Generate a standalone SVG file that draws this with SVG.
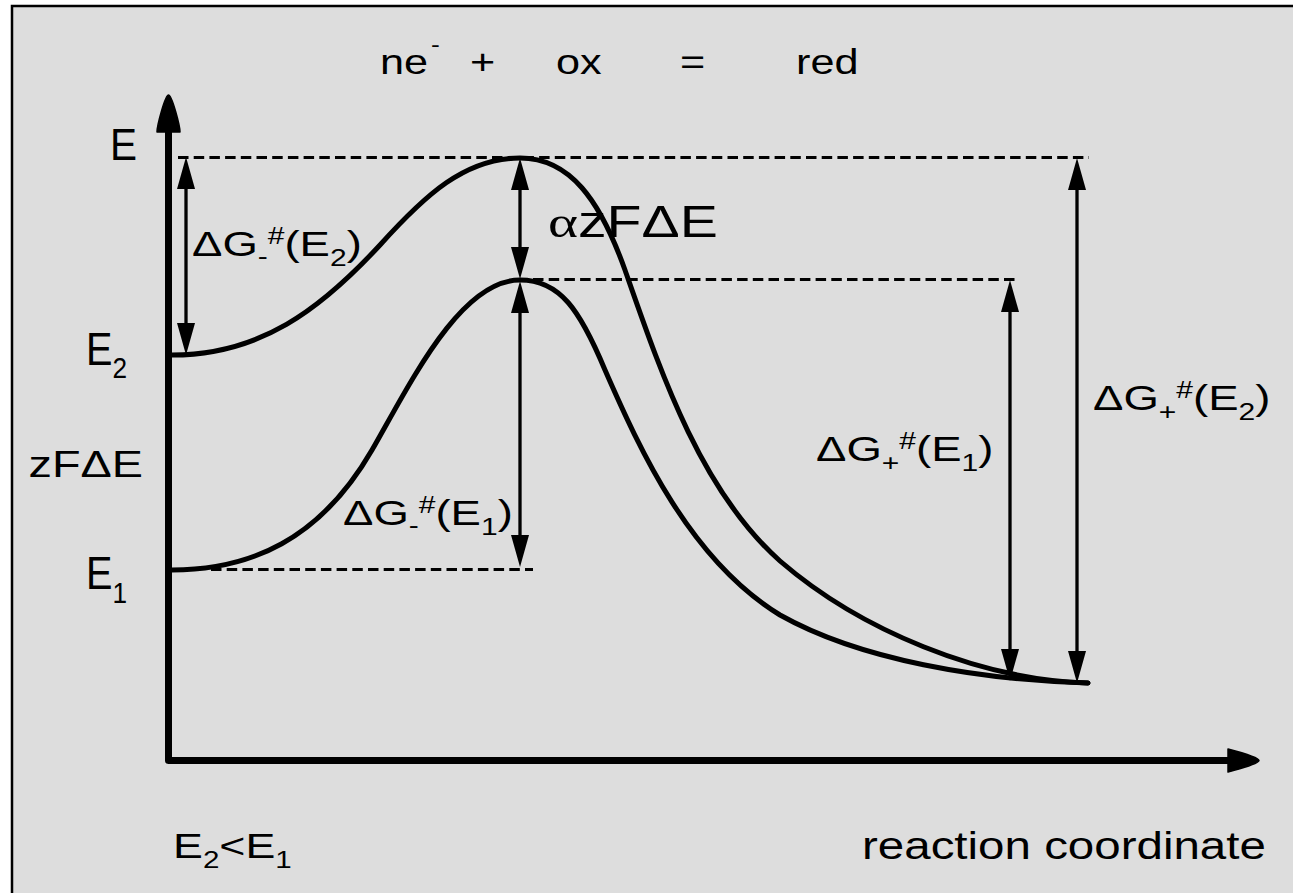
<svg xmlns="http://www.w3.org/2000/svg" width="1293" height="893" viewBox="0 0 1293 893">
<style>
.bg{fill:#dddddd;stroke:#000;stroke-width:2.5}
.axis{fill:none;stroke:#000;stroke-width:7;stroke-linejoin:round}
.head{fill:#000;stroke:#000;stroke-width:1.5;stroke-linejoin:round}
.curve{fill:none;stroke:#000;stroke-width:5;stroke-linecap:round}
.dash{fill:none;stroke:#000;stroke-width:3;stroke-dasharray:10.5 5.2}
.dim{fill:none;stroke:#000;stroke-width:3.3;marker-start:url(#ah);marker-end:url(#ah)}
.t{font-family:"Liberation Sans",Arial,sans-serif;fill:#000}
.s{font-size:0.66em}
</style>
<defs>
<marker id="ah" viewBox="-34 -10 36 20" refX="-10" refY="0" markerWidth="36" markerHeight="20" markerUnits="userSpaceOnUse" orient="auto-start-reverse">
<path d="M0,0 L-32,-9 L-32,9 Z" fill="#000"/>
</marker>
</defs>
<rect width="1293" height="893" fill="#fff"/>
<rect class="bg" x="12" y="6" width="1295" height="900"/>

<g id="axes">
<path class="axis" d="M168.5,130 L168.5,760.5 L1230,760.5"/>
<path class="head" d="M168.5,95 C172,95 180,126 180,132 L157,132 C157,126 165,95 168.5,95 Z"/>
<path class="head" d="M1259,760.5 C1259,764 1228,772 1228,772 L1228,749 C1228,749 1259,757 1259,760.5 Z"/>
</g>

<g id="curves">
<path id="curve-E2" class="curve" d="M172,355 C260,355 320,310 380,245 C425,195 465,158 520,158 C570,158 600,200 625,270 C660,370 700,490 780,561 C860,630 980,680 1088,683"/>
<path id="curve-E1" class="curve" d="M172,570 C250,570 320,540 372,450 C410,384 460,280 520,280 C560,280 580,310 605,370 C640,450 690,560 780,615 C860,660 980,680 1088,683"/>
</g>

<g id="connectors">
<path class="dash" d="M178,157.5 H1089"/>
<path class="dash" d="M533,279.5 H1015"/>
<path class="dash" d="M211,569.5 H533"/>
<path class="dim" d="M186,167 V345"/>
<path class="dim" d="M520,168 V269"/>
<path class="dim" d="M520,291 V557"/>
<path class="dim" d="M1010,290 V671"/>
<path class="dim" d="M1077,168 V673"/>
</g>

<g id="title" class="t" font-size="36">
<text transform="translate(380,74) scale(1.2,1)">ne</text>
<text transform="translate(431,52) scale(1.2,1)" font-size="22">-</text>
<text transform="translate(470,74) scale(1.2,1)">+</text>
<text transform="translate(556,74) scale(1.2,1)">ox</text>
<text transform="translate(680,74) scale(1.2,1)">=</text>
<text transform="translate(796,74) scale(1.2,1)">red</text>
</g>

<g id="label-E" class="t"><text transform="translate(110,160) scale(0.9,1)" font-size="45">E</text></g>
<g id="label-E2" class="t"><text transform="translate(86,365) scale(0.87,1)" font-size="45.6">E<tspan class="s" dy="13">2</tspan></text></g>
<g id="label-zFdE" class="t"><text transform="translate(28.6,476.7) scale(1.29,1)" font-size="36.3">zFΔE</text></g>
<g id="label-E1" class="t"><text transform="translate(86,589) scale(0.87,1)" font-size="45.6">E<tspan class="s" dy="14">1</tspan></text></g>

<g id="label-dGm-E2" class="t"><text transform="translate(192,256) scale(1.3,1)" font-size="35">ΔG<tspan class="s" dy="8">-</tspan><tspan class="s" dy="-20">#</tspan><tspan dy="12">(E</tspan><tspan class="s" dy="10">2</tspan><tspan dy="-10">)</tspan></text></g>
<g id="label-azFdE" class="t"><text transform="translate(548,237) scale(1.3,1)" font-size="44"><tspan font-family="Liberation Serif,serif">α</tspan>zFΔE</text></g>
<g id="label-dGm-E1" class="t"><text transform="translate(343,525) scale(1.3,1)" font-size="35">ΔG<tspan class="s" dy="8">-</tspan><tspan class="s" dy="-20">#</tspan><tspan dy="12">(E</tspan><tspan class="s" dy="10">1</tspan><tspan dy="-10">)</tspan></text></g>
<g id="label-dGp-E1" class="t"><text transform="translate(816,461) scale(1.3,1)" font-size="35">ΔG<tspan class="s" dy="10">+</tspan><tspan class="s" dy="-22">#</tspan><tspan dy="12">(E</tspan><tspan class="s" dy="10">1</tspan><tspan dy="-10">)</tspan></text></g>
<g id="label-dGp-E2" class="t"><text transform="translate(1093,410) scale(1.3,1)" font-size="35">ΔG<tspan class="s" dy="10">+</tspan><tspan class="s" dy="-22">#</tspan><tspan dy="12">(E</tspan><tspan class="s" dy="10">2</tspan><tspan dy="-10">)</tspan></text></g>

<g id="label-cond" class="t"><text transform="translate(173,858) scale(1.28,1)" font-size="35">E<tspan class="s" dy="10">2</tspan><tspan dy="-10">&lt;E</tspan><tspan class="s" dy="10">1</tspan></text></g>
<g id="label-rc" class="t"><text transform="translate(862,859) scale(1.25,1)" font-size="38">reaction coordinate</text></g>
</svg>
